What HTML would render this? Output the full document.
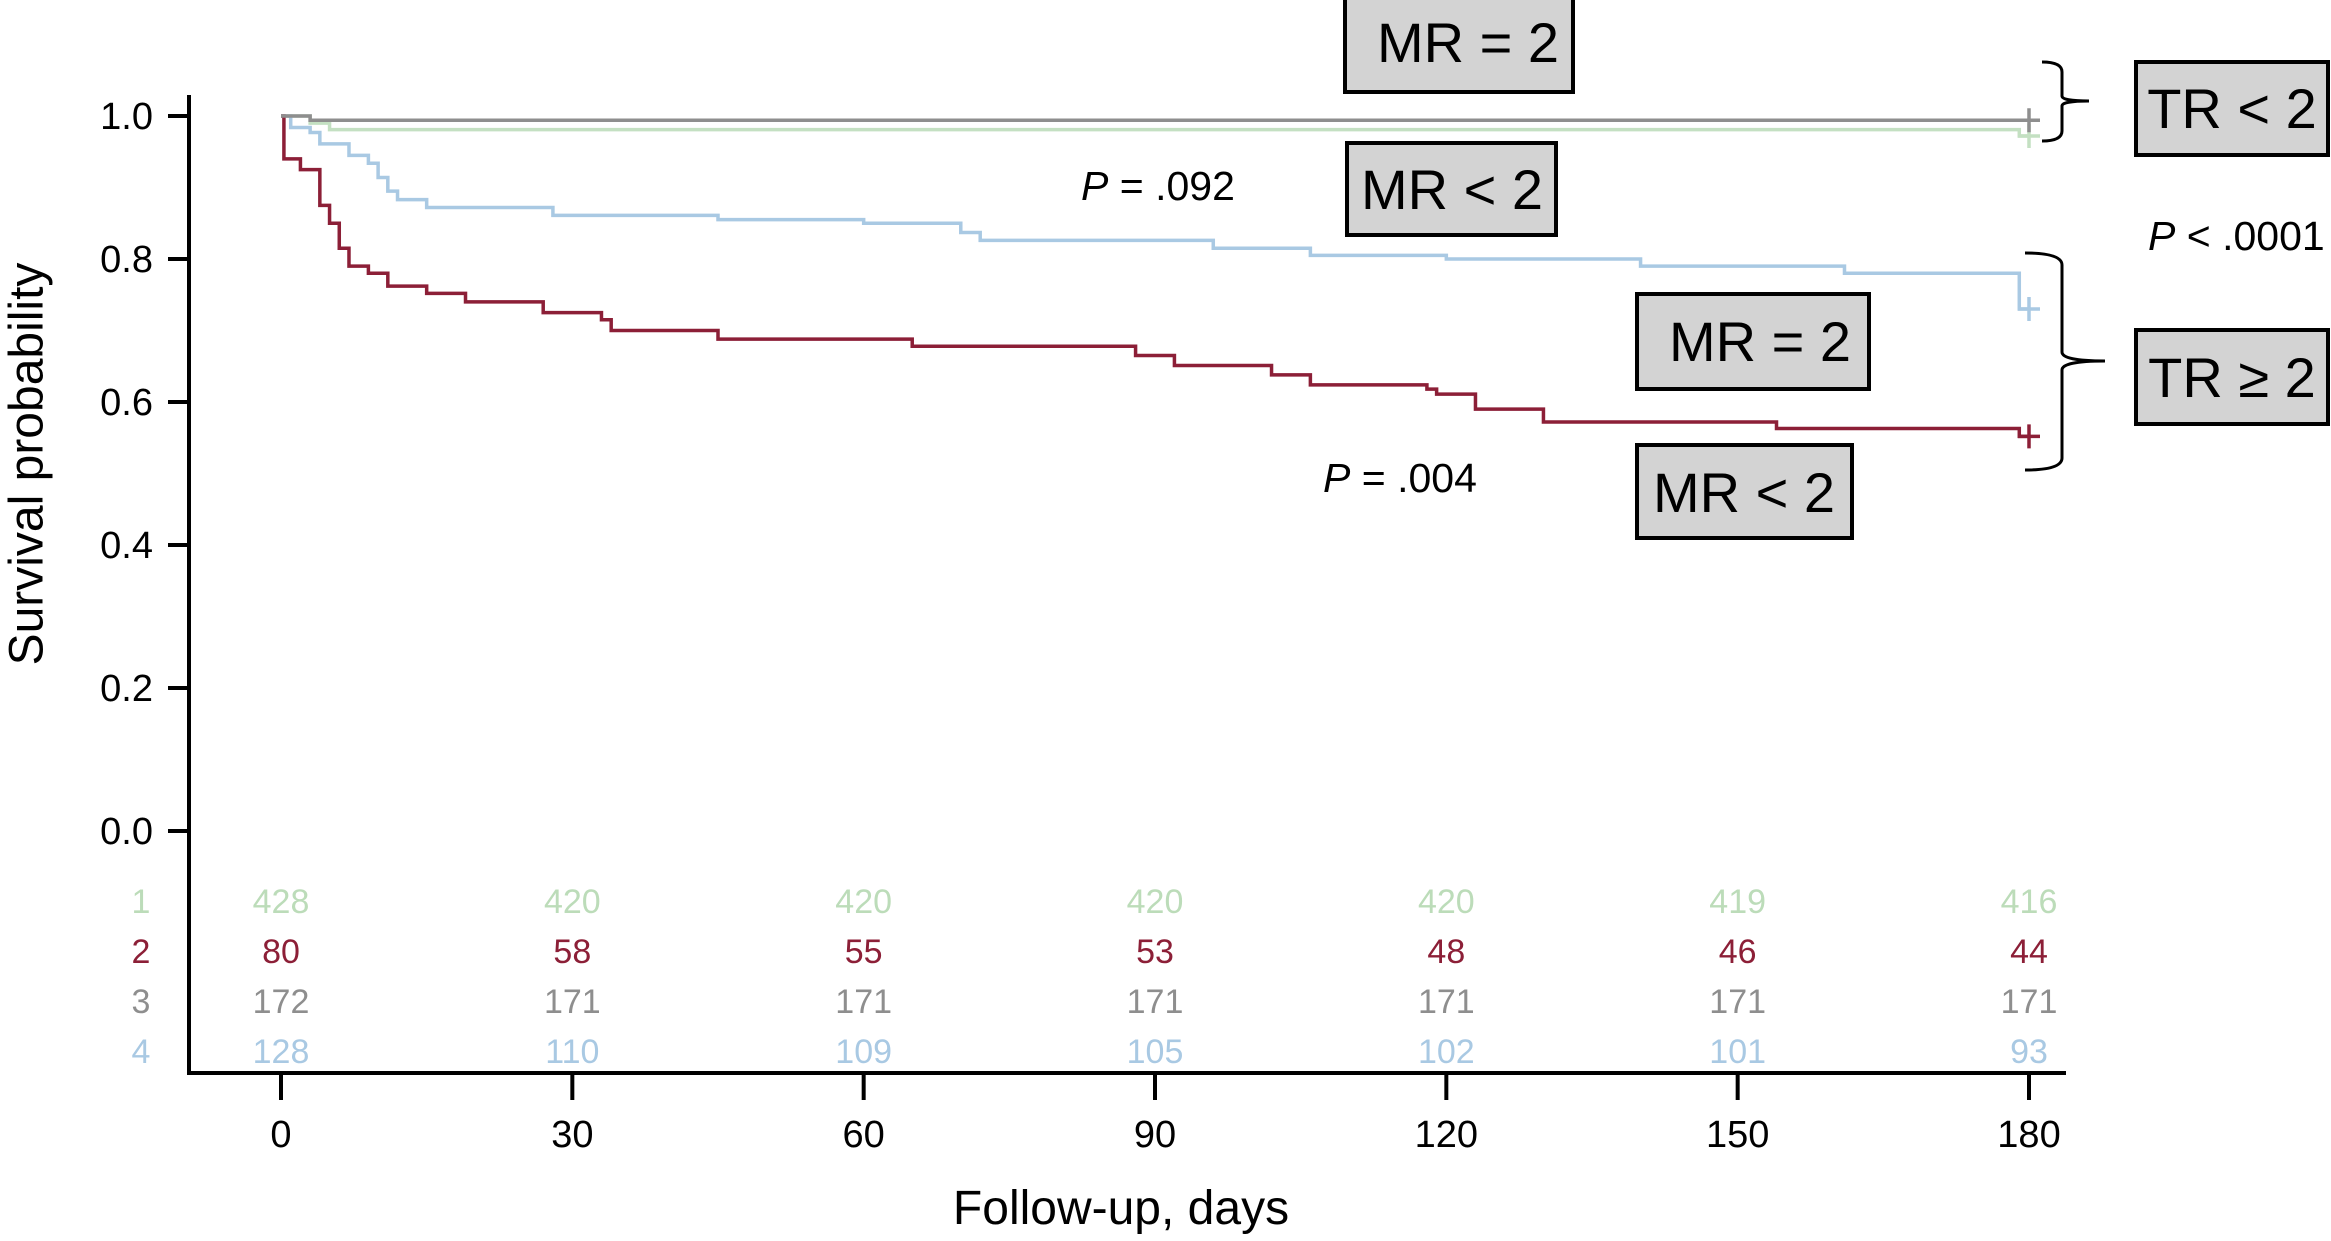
<!DOCTYPE html>
<html><head><meta charset="utf-8">
<style>
html,body{margin:0;padding:0;background:#fff;}
svg{display:block;font-family:"Liberation Sans",sans-serif;}
</style></head>
<body>
<svg id="chart" width="2331" height="1241" viewBox="0 0 2331 1241" xmlns="http://www.w3.org/2000/svg">
<g id="axes"></g>
<g id="curves"></g>
<g id="risk"></g>
<g id="annot">
  <text x="30" y="464" font-size="48" text-anchor="middle" transform="rotate(-90 30 464)" dominant-baseline="middle">Survival probability</text>
  <text x="1121" y="1224" font-size="48" text-anchor="middle">Follow-up, days</text>
  <g><rect x="1345" y="-3" width="228" height="95" fill="#d3d3d3" stroke="#000" stroke-width="4"/><text x="1468" y="62" font-size="56" text-anchor="middle">MR = 2</text></g>
  <g><rect x="1347" y="143" width="209" height="92" fill="#d3d3d3" stroke="#000" stroke-width="4"/><text x="1452" y="209" font-size="56" text-anchor="middle">MR &lt; 2</text></g>
  <g><rect x="2136" y="62" width="192" height="93" fill="#d3d3d3" stroke="#000" stroke-width="4"/><text x="2232" y="128" font-size="56" text-anchor="middle">TR &lt; 2</text></g>
  <g><rect x="1637" y="294" width="232" height="95" fill="#d3d3d3" stroke="#000" stroke-width="4"/><text x="1760" y="361" font-size="56" text-anchor="middle">MR = 2</text></g>
  <g><rect x="2136" y="330" width="192" height="94" fill="#d3d3d3" stroke="#000" stroke-width="4"/><text x="2232" y="397" font-size="56" text-anchor="middle">TR ≥ 2</text></g>
  <g><rect x="1637" y="445" width="215" height="93" fill="#d3d3d3" stroke="#000" stroke-width="4"/><text x="1744" y="512" font-size="56" text-anchor="middle">MR &lt; 2</text></g>
  <path d="M2042 62 Q2062 62 2062 72 L2062 96 Q2062 101 2089 101 Q2062 101 2062 106 L2062 131 Q2062 141 2042 141" fill="none" stroke="#000" stroke-width="3"/>
  <path d="M2025 253 Q2062 253 2062 265 L2062 352 Q2062 361 2105 361 Q2062 361 2062 370 L2062 458 Q2062 470 2025 470" fill="none" stroke="#000" stroke-width="3"/>
  <text x="1081" y="200" font-size="41"><tspan font-style="italic">P</tspan> = .092</text>
  <text x="2148" y="250" font-size="41"><tspan font-style="italic">P</tspan> &lt; .0001</text>
  <text x="1323" y="492" font-size="41"><tspan font-style="italic">P</tspan> = .004</text>
</g>
</svg>
<script>
const xTicks=[0,30,60,90,120,150,180];
const yTicks=[0.0,0.2,0.4,0.6,0.8,1.0];
const greenDays=[0,3,5,179];
const greenSurv=[1.0,0.99,0.981,0.972];
const redDays=[0,0.3,2,4,5,6,7,9,11,15,19,27,33,34,45,65,88,92,102,106,118,119,123,130,154,179];
const redSurv=[1.0,0.94,0.925,0.875,0.85,0.815,0.79,0.78,0.762,0.752,0.74,0.725,0.715,0.70,0.688,0.678,0.665,0.651,0.638,0.624,0.618,0.611,0.59,0.572,0.563,0.552];
const grayDays=[0,3];
const graySurv=[1.0,0.994];
const blueDays=[0,1,3,4,7,9,10,11,12,15,28,45,60,70,72,96,106,120,140,161,179];
const blueSurv=[1.0,0.984,0.977,0.961,0.945,0.934,0.914,0.895,0.883,0.872,0.861,0.855,0.850,0.837,0.826,0.815,0.805,0.80,0.79,0.78,0.73];
const riskGroups=["1","2","3","4"];
const risk1=[428,420,420,420,420,419,416];
const risk2=[80,58,55,53,48,46,44];
const risk3=[172,171,171,171,171,171,171];
const risk4=[128,110,109,105,102,101,93];
const endSurv1=0.972, endSurv2=0.552, endSurv3=0.994, endSurv4=0.73;

const NS="http://www.w3.org/2000/svg";
const X=d=>281+(d/180)*(2029-281);
const Y=p=>831-p*(831-116);
function mk(tag,attrs,parent){const e=document.createElementNS(NS,tag);for(const k in attrs)e.setAttribute(k,attrs[k]);parent.appendChild(e);return e;}
const axes=document.getElementById('axes');
let e=mk('line',{x1:189,y1:95,x2:189,y2:1073,stroke:'#000','stroke-width':4},axes);


e=mk('line',{x1:187,y1:1073,x2:2066,y2:1073,stroke:'#000','stroke-width':4},axes);


yTicks.forEach(t=>{
  let l=mk('line',{x1:168,y1:Y(t),x2:189,y2:Y(t),stroke:'#000','stroke-width':4},axes);
  
  
  let tx=mk('text',{x:153,y:Y(t)+13,'font-size':38,'text-anchor':'end'},axes);
  tx.textContent=t.toFixed(1);
  
  
});
xTicks.forEach(t=>{
  let l=mk('line',{x1:X(t),y1:1073,x2:X(t),y2:1100,stroke:'#000','stroke-width':4},axes);
  
  
  let tx=mk('text',{x:X(t),y:1147,'font-size':38,'text-anchor':'middle'},axes);
  tx.textContent=t;
  
  
});
const curves=document.getElementById('curves');
function stepPath(days,surv){
  let d='M'+X(days[0])+' '+Y(surv[0]);
  for(let i=1;i<days.length;i++){d+=' H'+X(days[i])+' V'+Y(surv[i]);}
  d+=' H'+X(180);
  return d;
}
function drawCurve(days,surv,color,name,endS){
  let p=mk('path',{d:stepPath(days,surv),fill:'none',stroke:color,'stroke-width':3.5},curves);
  
  
  let c=mk('path',{d:'M'+(X(180)-11)+' '+Y(endS)+' H'+(X(180)+11)+' M'+X(180)+' '+(Y(endS)-12)+' V'+(Y(endS)+12),stroke:color,'stroke-width':3.5,fill:'none'},curves);
  
  
}
drawCurve(greenDays,greenSurv,'#c4e0c2','curve-group-1',endSurv1);
drawCurve(blueDays,blueSurv,'#a9c9e3','curve-group-4',endSurv4);
drawCurve(redDays,redSurv,'#8c1f37','curve-group-2',endSurv2);
drawCurve(grayDays,graySurv,'#8e8e8e','curve-group-3',endSurv3);
const risk=document.getElementById('risk');
const rowY=[913,963,1013,1063];
const rowColors=['#bcdcb9','#8c1f37','#8e8e8e','#a9c9e3'];
const rows=[risk1,risk2,risk3,risk4];
riskGroups.forEach((g,i)=>{
  let t=mk('text',{x:141,y:rowY[i],'font-size':34,'text-anchor':'middle',fill:rowColors[i]},risk);
  t.textContent=g;
  
  
  rows[i].forEach((v,j)=>{
    let tt=mk('text',{x:X(xTicks[j]),y:rowY[i],'font-size':34,'text-anchor':'middle',fill:rowColors[i]},risk);
    tt.textContent=v;
    
    
  });
});
</script>
</body></html>
